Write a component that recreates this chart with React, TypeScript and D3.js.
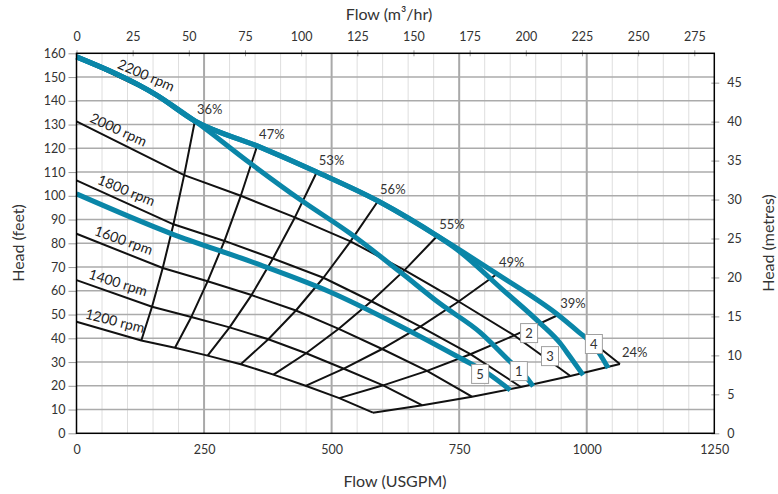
import React, { useEffect, useRef } from 'react';
import * as d3 from 'd3';

// Flow in USGPM, head in feet.
// Each speed line: shut-off point, then its crossings with the efficiency lines (36% ... 24%)
const rpmNames = ['2200 rpm', '2000 rpm', '1800 rpm', '1600 rpm', '1400 rpm', '1200 rpm'];
const rpm2200Flow = [0, 157, 232, 354, 471, 591, 707, 824, 944, 1065];
const rpm2200Head = [158.5, 142.4, 131.5, 121, 110, 97.8, 83.1, 67.1, 49.8, 29.2];
const rpm2000Flow = [0, 211, 322, 428, 537, 643, 749, 858, 968];
const rpm2000Head = [131.3, 108.7, 100.0, 90.9, 80.8, 68.7, 55.5, 41.2, 24.1];
const rpm1800Flow = [0, 190, 290, 385, 484, 578, 674, 772, 871];
const rpm1800Head = [106.5, 88.0, 81.0, 73.6, 65.5, 55.6, 44.9, 33.3, 19.5];
const rpm1600Flow = [0, 169, 257, 343, 430, 514, 599, 687, 775];
const rpm1600Head = [84.0, 69.6, 64.0, 58.2, 51.7, 44.0, 35.5, 26.3, 15.4];
const rpm1400Flow = [0, 148, 225, 300, 376, 450, 524, 601, 678];
const rpm1400Head = [64.5, 53.3, 49.0, 44.6, 39.6, 33.7, 27.2, 20.2, 11.8];
const rpm1200Flow = [0, 127, 193, 257, 322, 386, 449, 515, 581];
const rpm1200Head = [47.0, 39.1, 36.0, 32.7, 29.1, 24.7, 20.0, 14.8, 8.7];

const effNames = ['36%', '47%', '53%', '56%', '55%', '49%', '39%', '24%'];

// blue performance curves
const curveNames = ['1', '2', '3', '4', '5'];
const curve1Flow = [0, 157, 232, 340, 441, 536, 634, 713, 791, 846, 882, 895];
const curve1Head = [158.5, 142.4, 131.5, 113.8, 98, 84.2, 68, 54.5, 42.5, 31, 23.5, 19.8];
const curve3Flow = [0, 157, 232, 354, 471, 591, 707, 745, 836, 909, 948, 967, 993];
const curve3Head = [158.5, 142.4, 131.5, 121, 110, 97.8, 83.1, 77.5, 60.3, 46.3, 37.9, 32.3, 24.5];
const curve4Flow = [0, 157, 232, 354, 471, 591, 707, 824, 944, 985, 1012, 1042];
const curve4Head = [158.5, 142.4, 131.5, 121, 110, 97.8, 83.1, 67.1, 49.8, 42.5, 37.5, 27.5];
const curve5Flow = [0, 183, 360, 497, 634, 752, 805, 850];
const curve5Head = [100.8, 84.3, 70.9, 59.5, 45.2, 31.7, 25.4, 18.2];
// where the numbered boxes sit (flow, head)
const tagFlow = [867, 887, 928, 1014, 791];
const tagHead = [26.2, 42.2, 32.5, 37.6, 25.0];

const xTicks = [0, 250, 500, 750, 1000, 1250];
const m3hTicks = [0, 25, 50, 75, 100, 125, 150, 175, 200, 225, 250, 275];
const feetTicks = d3.range(0, 161, 10);
const metreTicks = [0, 5, 10, 15, 20, 25, 30, 35, 40, 45];

const GPM_PER_M3H = 4.402868;
const FT_TO_M = 0.3048;
const BLUE = '#0a86a8';
const FONT = "Lato, 'Open Sans', sans-serif";

const App = () => {
  const svgRef = useRef<SVGSVGElement>(null);

  useEffect(() => {
    drawChart();
  }, []);

  const drawChart = () => {
    const svg = d3.select(svgRef.current);
    svg.selectAll('*').remove();

    const left = 76.5, right = 714.3, top = 53.3, bottom = 433.3;

    const x = d3.scaleLinear().domain([0, 1250]).range([left, right]);
    const y = d3.scaleLinear().domain([0, 160]).range([bottom, top]);
    const xTop = d3.scaleLinear().domain([0, 1250 / GPM_PER_M3H]).range([left, right]);
    const yRight = d3.scaleLinear().domain([0, 160 * FT_TO_M]).range([bottom, top]);

    // grid
    const grid = svg.append('g');
    grid.selectAll('line.minor')
      .data(d3.range(50, 1250, 50).filter(v => v % 250 !== 0))
      .enter().append('line')
      .attr('x1', d => x(d)).attr('x2', d => x(d))
      .attr('y1', top).attr('y2', bottom)
      .attr('stroke', '#dedede').attr('stroke-width', 1);
    grid.selectAll('line.major')
      .data([250, 500, 750, 1000])
      .enter().append('line')
      .attr('x1', d => x(d)).attr('x2', d => x(d))
      .attr('y1', top).attr('y2', bottom)
      .attr('stroke', '#a9a9a9').attr('stroke-width', 2);
    grid.selectAll('line.h')
      .data(d3.range(10, 160, 10))
      .enter().append('line')
      .attr('x1', left).attr('x2', right)
      .attr('y1', d => y(d)).attr('y2', d => y(d))
      .attr('stroke', '#ababab').attr('stroke-width', 1.5);

    const styleAxis = (g: any) => {
      g.select('.domain').remove();
      g.selectAll('.tick line').attr('stroke', '#9a9a9a');
      g.selectAll('text').attr('fill', '#333').style('font-family', FONT).style('font-size', '12.5px');
    };

    svg.append('g').attr('transform', `translate(${left},0)`)
      .call(d3.axisLeft(y).tickValues(feetTicks).tickSize(8).tickPadding(3))
      .call(styleAxis);
    svg.append('g').attr('transform', `translate(0,${bottom})`)
      .call(d3.axisBottom(x).tickValues(xTicks).tickFormat(d3.format('d')).tickSize(0).tickPadding(12))
      .call(styleAxis);
    const topAxis = svg.append('g').attr('transform', `translate(0,${top})`)
      .call(d3.axisTop(xTop).tickValues(m3hTicks).tickSize(3).tickPadding(9))
      .call(styleAxis);
    topAxis.selectAll('.tick line').attr('y1', 3);
    const rightAxis = svg.append('g').attr('transform', `translate(${right},0)`)
      .call(d3.axisRight(yRight).tickValues(metreTicks).tickSize(5).tickPadding(8))
      .call(styleAxis);
    rightAxis.selectAll('.tick line').attr('x1', -3);

    // axis titles
    const title = (t: string, tx: number, ty: number, rot = 0) =>
      svg.append('text')
        .attr('transform', `translate(${tx},${ty}) rotate(${rot})`)
        .attr('text-anchor', 'middle').attr('dominant-baseline', 'central')
        .attr('fill', '#333').style('font-family', FONT).style('font-size', '16px')
        .text(t);
    title('Flow (m³/hr)', 389, 13);
    title('Flow (USGPM)', 395, 480);
    title('Head (feet)', 17, 243, -90);
    title('Head (metres)', 767, 243, -90);

    const line = d3.line<[number, number]>().x(d => x(d[0])).y(d => y(d[1]));
    const smooth = d3.line<[number, number]>().x(d => x(d[0])).y(d => y(d[1])).curve(d3.curveMonotoneX);
    const zip = (f: number[], h: number[]) => f.map((v, i) => [v, h[i]] as [number, number]);

    const speeds = [
      zip(rpm2200Flow, rpm2200Head),
      zip(rpm2000Flow, rpm2000Head),
      zip(rpm1800Flow, rpm1800Head),
      zip(rpm1600Flow, rpm1600Head),
      zip(rpm1400Flow, rpm1400Head),
      zip(rpm1200Flow, rpm1200Head),
    ];

    const black = svg.append('g').attr('fill', 'none').attr('stroke', '#111').attr('stroke-width', 2)
      .attr('stroke-linejoin', 'round');
    speeds.forEach(pts => black.append('path').attr('d', line(pts)));

    // efficiency lines from the 1200 rpm line up to the 2200 rpm line
    effNames.forEach((name, i) => {
      const pts = speeds.map(s => s.slice(-8)[i]).reverse();
      black.append('path').attr('d', line(pts));
      const end = pts[pts.length - 1];
      svg.append('text')
        .attr('x', x(end[0]) + 2).attr('y', y(end[1]) - 7)
        .attr('fill', '#333').style('font-family', FONT).style('font-size', '13px')
        .text(name);
    });

    // rpm labels, rotated along their line
    const labelAt = [126, 73, 89, 85, 75, 70];
    speeds.forEach((pts, i) => {
      const f = labelAt[i];
      const k = pts.findIndex(p => p[0] > f);
      const a = pts[k - 1], b = pts[k];
      const t = (f - a[0]) / (b[0] - a[0]);
      const px = x(f), py = y(a[1] + t * (b[1] - a[1]));
      const ang = Math.atan2(y(b[1]) - y(a[1]), x(b[0]) - x(a[0])) * 180 / Math.PI;
      svg.append('text')
        .attr('transform', `translate(${px},${py}) rotate(${ang - 2})`)
        .attr('y', i === 0 ? -14 : -12)
        .attr('text-anchor', 'middle').attr('dominant-baseline', 'central')
        .attr('fill', '#222').style('font-family', FONT).style('font-size', '14px')
        .text(rpmNames[i]);
    });

    // blue curves
    const blue = svg.append('g').attr('fill', 'none').attr('stroke', BLUE).attr('stroke-width', 5)
      .attr('stroke-linejoin', 'round');
    [
      zip(curve4Flow, curve4Head),
      zip(curve3Flow, curve3Head),
      zip(curve1Flow, curve1Head),
      zip(curve5Flow, curve5Head),
    ].forEach(pts => blue.append('path').attr('d', smooth(pts)));

    // numbered boxes
    curveNames.forEach((n, i) => {
      const g = svg.append('g').attr('transform', `translate(${x(tagFlow[i])},${y(tagHead[i])})`);
      g.append('rect').attr('x', -8.5).attr('y', -9.5).attr('width', 17).attr('height', 19)
        .attr('fill', '#fff').attr('stroke', '#a0a0a0').attr('stroke-width', 1);
      g.append('text').attr('text-anchor', 'middle').attr('dominant-baseline', 'central')
        .attr('fill', '#333').style('font-family', FONT).style('font-size', '13px')
        .text(n);
    });

    // plot frame
    svg.append('rect')
      .attr('x', left).attr('y', top).attr('width', right - left).attr('height', bottom - top)
      .attr('fill', 'none').attr('stroke', '#000').attr('stroke-width', 1.5);
  };

  return (
    <svg
      ref={svgRef}
      width={778}
      height={494}
      style={{ position: 'absolute', left: 0, top: 0, background: '#fff' }}
    ></svg>
  );
};

export default App;
